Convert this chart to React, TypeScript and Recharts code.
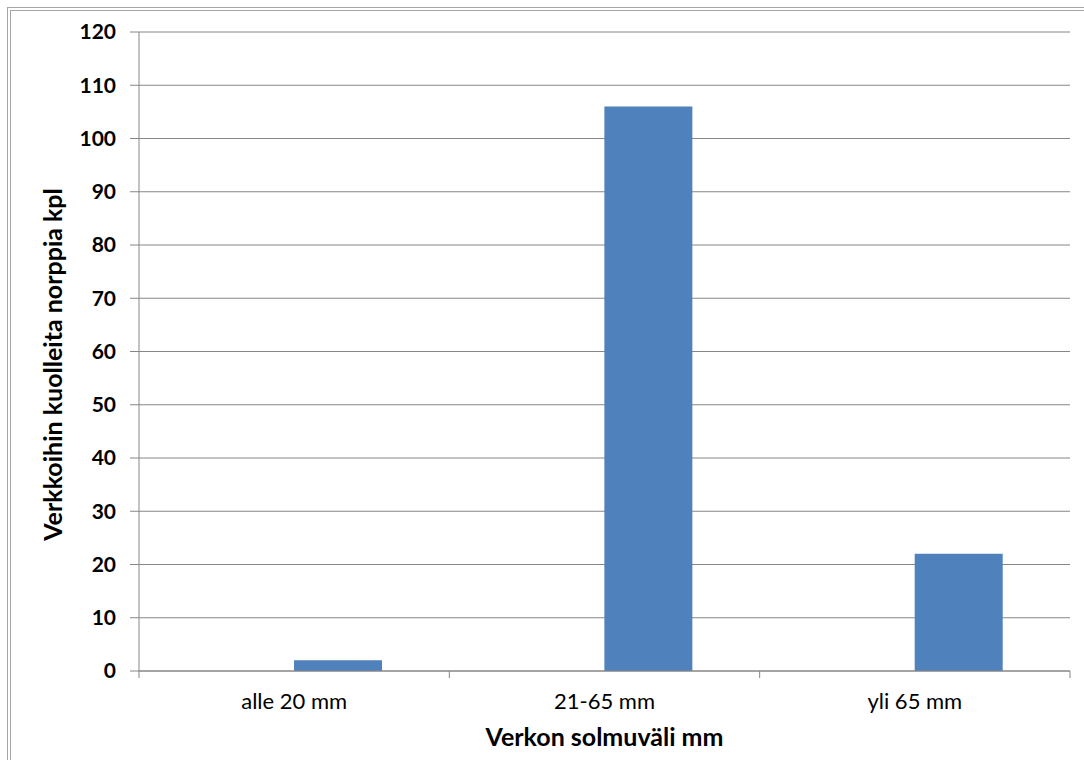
import React from "react";
import {
  BarChart,
  Bar,
  XAxis,
  YAxis,
  CartesianGrid,
  Label,
} from "recharts";

// Verkkoihin kuolleet norpat solmuvälin mukaan
const categories = ["alle 20 mm", "21-65 mm", "yli 65 mm"];
// the original sheet has an empty first series, which pushes the bars right
const emptySeries = [null, null, null];
const seals = [2, 106, 22];
const yTicks = [0, 10, 20, 30, 40, 50, 60, 70, 80, 90, 100, 110, 120];

const data = categories.map((name, i) => ({
  name,
  empty: emptySeries[i],
  value: seals[i],
}));

const FONT = "Lato, 'Open Sans', sans-serif";
const AXIS = "#868686";

function CategoryTick(props: any) {
  const { x, y, payload, index, visibleTicksCount } = props;
  const half = payload?.offset ?? 0;
  const last = index === (visibleTicksCount ?? categories.length) - 1;
  return (
    <g>
      <line x1={x - half} x2={x - half} y1={y - 8} y2={y - 1} stroke={AXIS} />
      {last && (
        <line x1={x + half} x2={x + half} y1={y - 8} y2={y - 1} stroke={AXIS} />
      )}
      <text
        x={x}
        y={y + 30}
        textAnchor="middle"
        fill="#000"
        fontFamily={FONT}
        fontSize={22}
      >
        {payload.value}
      </text>
    </g>
  );
}

export default function App() {
  return (
    <div
      style={{
        position: "fixed",
        left: 0,
        top: 0,
        width: 1084,
        height: 760,
        background: "#fff",
        overflow: "hidden",
      }}
    >
      <div
        style={{
          position: "absolute",
          left: 7,
          top: 7,
          width: 1100,
          height: 800,
          borderLeft: "4px double #a6a6a6",
          borderTop: "4px double #a6a6a6",
        }}
      />
      <div style={{ position: "absolute", left: 0, top: 0 }}>
        <BarChart
          width={1084}
          height={760}
          data={data}
          margin={{ top: 32, right: 14, left: 0, bottom: 0 }}
          barCategoryGap="21.6%"
          barGap={0}
        >
          <CartesianGrid vertical={false} stroke={AXIS} strokeWidth={1} />
          <XAxis
            dataKey="name"
            height={89}
            axisLine={{ stroke: AXIS }}
            tickLine={false}
            tick={<CategoryTick />}
            interval={0}
          >
            <Label
              value="Verkon solmuväli mm"
              position="insideTop"
              offset={57}
              fill="#000"
              fontFamily={FONT}
              fontSize={25}
              fontWeight={700}
            />
          </XAxis>
          <YAxis
            width={139}
            domain={[0, 120]}
            ticks={yTicks}
            interval={0}
            axisLine={{ stroke: AXIS }}
            tickLine={{ stroke: AXIS }}
            tickSize={9}
            tickMargin={14}
            tick={{ fill: "#000", fontFamily: FONT, fontSize: 21, fontWeight: 700 }}
          >
            <Label
              value="Verkkoihin kuolleita norppia kpl"
              angle={-90}
              position="insideLeft"
              offset={53}
              dy={13}
              style={{ textAnchor: "middle" }}
              fill="#000"
              fontFamily={FONT}
              fontSize={25}
              fontWeight={700}
            />
          </YAxis>
          <Bar dataKey="empty" fill="#C0504D" isAnimationActive={false} />
          <Bar dataKey="value" fill="#4F81BD" isAnimationActive={false} />
        </BarChart>
      </div>
    </div>
  );
}
